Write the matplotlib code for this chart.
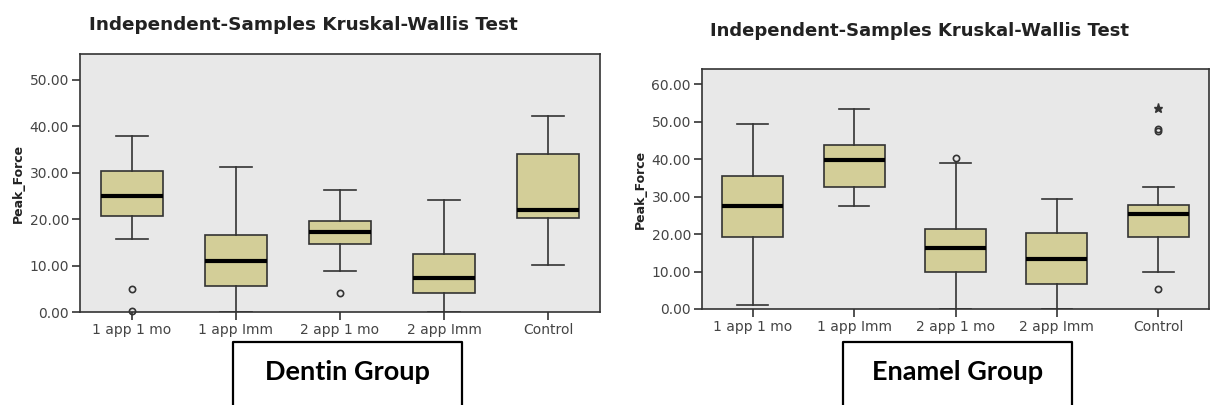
import matplotlib.pyplot as plt
from matplotlib.lines import Line2D

groups = ['1 app 1 mo', '1 app Imm', '2 app 1 mo', '2 app Imm', 'Control']

# Dentin: box-plot summary for Peak_Force
dentin_whislo = [15.8, 0.0, 8.9, 0.0, 10.2]
dentin_q1 = [20.6, 5.7, 14.7, 4.0, 20.3]
dentin_med = [25.1, 11.0, 17.2, 7.4, 22.0]
dentin_q3 = [30.4, 16.6, 19.7, 12.5, 34.1]
dentin_whishi = [38.0, 31.3, 26.2, 24.2, 42.2]
dentin_fliers = [[5.0, 0.3], [], [4.2], [], []]
dentin_extremes = [[], [], [], [], []]

# Enamel
enamel_whislo = [1.0, 27.4, 0.0, 0.0, 10.0]
enamel_q1 = [19.3, 32.7, 9.8, 6.7, 19.2]
enamel_med = [27.4, 39.8, 16.2, 13.4, 25.3]
enamel_q3 = [35.4, 43.8, 21.5, 20.2, 27.9]
enamel_whishi = [49.3, 53.3, 39.1, 29.3, 32.6]
enamel_fliers = [[], [], [40.3], [], [47.6, 48.0, 5.4]]
enamel_extremes = [[], [], [], [], [53.8]]

BG = '#e8e8e8'
FILL = '#d3ce98'
DARK = '#333333'
TXT = '#444444'

W, H = 1211, 405
fig = plt.figure(figsize=(W / 100, H / 100), dpi=100)


def px_axes(x0, y0, x1, y1):
    return fig.add_axes([x0 / W, 1 - y1 / H, (x1 - x0) / W, (y1 - y0) / H])


def draw_panel(ax, whislo, q1, med, q3, whishi, fliers, extremes, ymax, yticks):
    stats = []
    for i in range(len(groups)):
        stats.append(dict(label=groups[i], whislo=whislo[i], q1=q1[i], med=med[i],
                          q3=q3[i], whishi=whishi[i], fliers=fliers[i]))
    ax.bxp(stats, positions=range(1, 6), widths=0.6, capwidths=0.3, patch_artist=True,
           boxprops=dict(facecolor=FILL, edgecolor=DARK, linewidth=1.2),
           medianprops=dict(color='black', linewidth=3.0),
           whiskerprops=dict(color=DARK, linewidth=1.2),
           capprops=dict(color=DARK, linewidth=1.2),
           flierprops=dict(marker='o', markerfacecolor='none', markeredgecolor=DARK,
                           markersize=4.5, markeredgewidth=1.2, clip_on=False))
    for i, ext in enumerate(extremes):
        if ext:
            ax.plot([i + 1] * len(ext), ext, linestyle='none', marker='*',
                    color=DARK, markersize=6.5)
    ax.set_facecolor(BG)
    ax.set_xlim(0.5, 5.5)
    ax.set_ylim(0, ymax)
    ax.set_yticks(yticks)
    ax.set_yticklabels(['%.2f' % v for v in yticks])
    ax.set_xticks(range(1, 6))
    ax.set_xticklabels(groups)
    ax.tick_params(direction='out', length=6, width=1.2, color=DARK,
                   labelcolor=TXT, labelsize=10, pad=2)
    for s in ax.spines.values():
        s.set_color(DARK)
        s.set_linewidth(1.2)
    ax.set_ylabel('Peak_Force', fontsize=9, fontweight='bold', color='#222222', labelpad=3)


ax1 = px_axes(80, 54, 600, 312)
draw_panel(ax1, dentin_whislo, dentin_q1, dentin_med, dentin_q3, dentin_whishi,
           dentin_fliers, dentin_extremes, 55.6, [0, 10, 20, 30, 40, 50])

ax2 = px_axes(702, 69, 1209, 309)
draw_panel(ax2, enamel_whislo, enamel_q1, enamel_med, enamel_q3, enamel_whishi,
           enamel_fliers, enamel_extremes, 64.1, [0, 10, 20, 30, 40, 50, 60])

title = 'Independent-Samples Kruskal-Wallis Test'
fig.text(303 / W, 1 - 25 / H, title, ha='center', va='center',
         fontsize=13.2, fontweight='bold', color='#222222')
fig.text(920 / W, 1 - 31 / H, title, ha='center', va='center',
         fontsize=13.0, fontweight='bold', color='#222222')

# group caption boxes (open at the bottom)
for x0, x1, name in [(233, 462, 'Dentin Group'), (843, 1072, 'Enamel Group')]:
    xs = [x0 / W, x0 / W, x1 / W, x1 / W]
    ys = [-0.05, 1 - 342 / H, 1 - 342 / H, -0.05]
    fig.add_artist(Line2D(xs, ys, color='black', linewidth=1.6, transform=fig.transFigure))
    fig.text((x0 + x1) / 2 / W, 1 - 372 / H, name, ha='center', va='center',
             fontsize=19.5, fontweight='bold', family='Lato', color='black')

fig.savefig('out.png', dpi=100)
